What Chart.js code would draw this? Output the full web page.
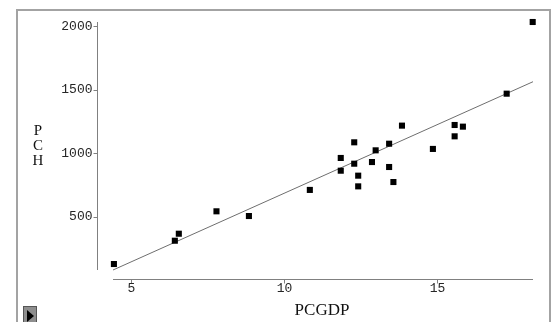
<!DOCTYPE html>
<html>
<head>
<meta charset="utf-8">
<script src="https://cdn.jsdelivr.net/npm/chart.js@4"></script>
<style>
  body { margin: 0; background: #fff; }
  #wrap { position: relative; width: 552px; height: 322px; overflow: hidden; }
  #frame { position: absolute; left: 16px; top: 9px; width: 531px; height: 330px; border: 2px solid #a3a3a3; }
  #btn { position: absolute; left: 23px; top: 306px; width: 12px; height: 20px; background: #8e8e8e; border: 1px solid #555; }
  #btn:after { content: ''; position: absolute; left: 3px; top: 3px; border-left: 7px solid #000; border-top: 6px solid transparent; border-bottom: 6px solid transparent; }
  canvas { position: absolute; left: 0; top: 0; }
</style>
</head>
<body>
<div id="wrap">
  <div id="frame"></div>
  <canvas id="chart" width="552" height="322"></canvas>
  <div id="btn"></div>
</div>
<script>
// ---- data ----
const pcgdp = [4.43, 6.42, 6.55, 7.78, 8.84, 10.83, 11.84, 11.84, 12.28, 12.28, 12.41, 12.41,
               12.86, 12.98, 13.42, 13.42, 13.56, 13.84, 14.85, 15.56, 15.56, 15.83, 17.26, 18.11];
const pch   = [131, 314, 369, 545, 508, 713, 964, 864, 1087, 919, 825, 741,
               932, 1024, 1076, 893, 775, 1218, 1035, 1223, 1134, 1210, 1469, 2032];

// fitted line ends
const fitX = [4.4, 18.12];
const fitY = [84, 1563];

const xTicks = [5, 10, 15];
const yTicks = [500, 1000, 1500, 2000];

const xTitle = 'PCGDP';
const yTitle = ['P', 'C', 'H'];

// draws the detached axes the old-style way
const axesPlugin = {
  id: 'oldAxes',
  afterDraw(chart) {
    const { ctx, chartArea: a, scales } = chart;
    const ax = a.left - 15.5;      // y axis line
    const ay = a.bottom + 9.5;     // x axis line
    ctx.save();
    ctx.strokeStyle = '#808080';
    ctx.lineWidth = 1;
    ctx.beginPath();
    ctx.moveTo(ax, a.top);
    ctx.lineTo(ax, a.bottom);
    ctx.moveTo(a.left, ay);
    ctx.lineTo(a.right, ay);
    yTicks.forEach(v => {
      const py = Math.round(scales.y.getPixelForValue(v)) + 0.5;
      ctx.moveTo(ax - 4, py);
      ctx.lineTo(ax, py);
    });
    xTicks.forEach(v => {
      const px = Math.round(scales.x.getPixelForValue(v)) + 0.5;
      ctx.moveTo(px, ay);
      ctx.lineTo(px, ay + 4);
    });
    ctx.stroke();

    ctx.fillStyle = '#262626';
    ctx.font = '13px "Liberation Mono"';
    ctx.textAlign = 'right';
    ctx.textBaseline = 'middle';
    yTicks.forEach(v => ctx.fillText(String(v), ax - 5, scales.y.getPixelForValue(v)));
    ctx.textAlign = 'center';
    xTicks.forEach(v => ctx.fillText(String(v), scales.x.getPixelForValue(v), ay + 9));

    ctx.fillStyle = '#111';
    ctx.font = '17px "Liberation Serif"';
    ctx.fillText(xTitle, (a.left + a.right) / 2 - 1, ay + 31);
    ctx.font = '15px "Liberation Serif"';
    yTitle.forEach((ch, i) => ctx.fillText(ch, 38, 131 + i * 15));
    ctx.restore();
  }
};

new Chart(document.getElementById('chart'), {
  type: 'scatter',
  data: {
    datasets: [
      {
        data: pcgdp.map((x, i) => ({ x: x, y: pch[i] })),
        pointStyle: 'rect',
        pointRadius: 4.3,
        backgroundColor: '#000',
        borderWidth: 0,
        clip: false
      },
      {
        type: 'line',
        data: fitX.map((x, i) => ({ x: x, y: fitY[i] })),
        borderColor: '#6e6e6e',
        borderWidth: 1,
        pointRadius: 0,
        clip: false
      }
    ]
  },
  options: {
    responsive: false,
    animation: false,
    layout: { padding: { left: 113, right: 19, top: 22, bottom: 52 } },
    plugins: { legend: { display: false }, tooltip: { enabled: false } },
    scales: {
      x: { type: 'linear', display: false, min: 4.4, max: 18.12 },
      y: { type: 'linear', display: false, min: 84, max: 2032 }
    }
  },
  plugins: [axesPlugin]
});
</script>
</body>
</html>
